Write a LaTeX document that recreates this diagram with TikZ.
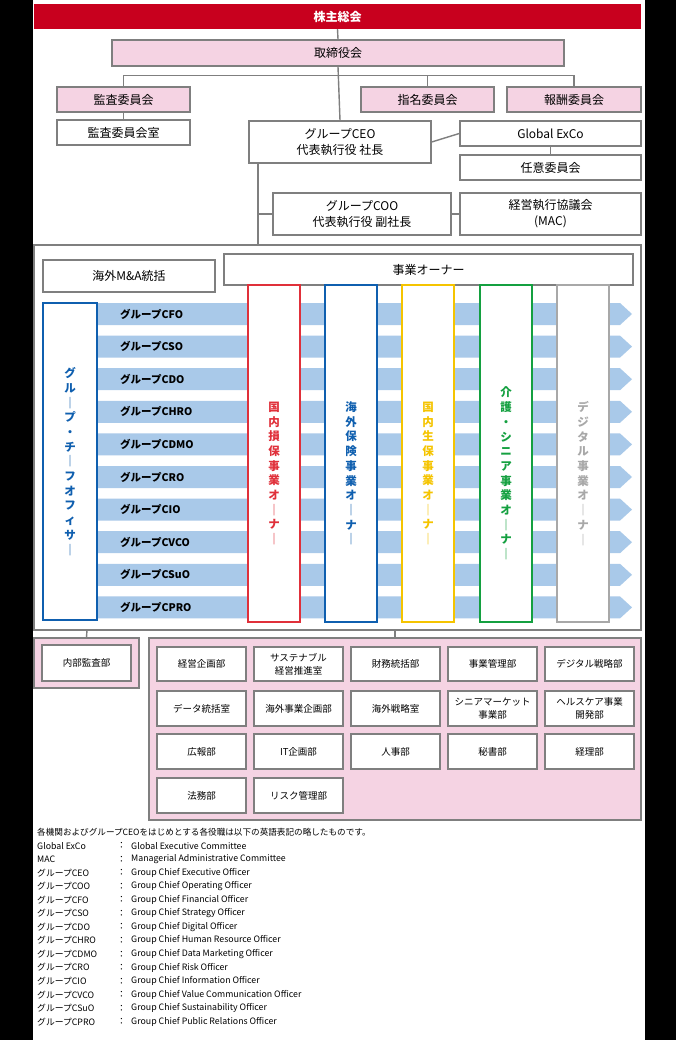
\documentclass[tikz,border=0pt]{standalone}
\usepackage{fontspec}
\setmainfont{Noto Sans CJK JP}
\definecolor{cred}{HTML}{C8001E}
\definecolor{cpink}{HTML}{F5D3E3}
\definecolor{cgray}{HTML}{7F7F7F}
\definecolor{cband}{HTML}{A9C9E9}
\definecolor{cblue}{HTML}{0F5FAF}
\definecolor{cr}{HTML}{E0303A}
\definecolor{cy}{HTML}{F5C400}
\definecolor{cg}{HTML}{14A040}
\definecolor{cgr}{HTML}{A8A8A8}
\newcommand\bx[7]{\node[#6,minimum width={#4pt-#2pt},minimum height={#5pt-#3pt}] (#1) at ({(#2+#4)/2},{(#3+#5)/2}) {#7};}
\begin{document}
\begin{tikzpicture}[x=1pt,y=-1pt,
  bx/.style={draw=cgray,line width=1.4pt,fill=white,inner sep=0,align=center,font=\fontsize{12}{16}\selectfont},
  pk/.style={bx,fill=cpink},
  sm/.style={bx,line width=1.6pt,font=\fontsize{9.5}{13}\selectfont},
  ln/.style={draw=cgray,line width=1.4pt},
  vt/.style={inner sep=0,align=center,font=\fontsize{11.5}{14.7}\selectfont\bfseries}]
\fill[black] (0,0) rectangle (676,1040);
\fill[white] (33,0) rectangle (645,1040);
\useasboundingbox (0,0) rectangle (676,1040);
% top
\node[fill=cred,text=white,minimum width=607pt,minimum height=25pt,inner sep=0,font=\fontsize{12}{14}\selectfont\bfseries] (agm) at (337.5,16.5) {株主総会};
\bx{board}{112}{40}{564}{66}{pk}{取締役会}
\bx{audit}{57}{87}{190}{112}{pk}{監査委員会}
\bx{nom}{361}{87}{494}{112}{pk}{指名委員会}
\bx{comp}{507}{87}{641}{112}{pk}{報酬委員会}
\bx{auditoff}{57}{120}{190}{145}{bx}{監査委員会室}
\bx{ceo}{249}{121}{431}{163}{bx}{グループCEO\\代表執行役\ 社長}
\bx{exco}{460}{121}{641}{146}{bx}{Global ExCo}
\bx{nin}{460}{155}{641}{180}{bx}{任意委員会}
\bx{coo}{273}{193}{451}{235}{bx}{グループCOO\\代表執行役\ 副社長}
\bx{mac}{460}{193}{641}{235}{bx}{経営執行協議会\\(MAC)}
\draw[ln] (agm.south) -- (board.north);
\draw[ln] (board.south) -- (ceo.north);
\draw[ln] (audit.north) -- ++(0,-11) -| (comp.north);
\draw[ln] (nom.north) -- ++(0,-11);
\draw[ln] (audit.south) -- (auditoff.north);
\draw[ln] (ceo.east) -- (exco.west);
\draw[ln] (exco.south) -- (nin.north);
\draw[ln] (coo.east) -- (mac.west);
% big box
\bx{big}{34}{245}{641}{630}{bx}{}
\coordinate (cl) at (258,163);
\draw[ln] (cl) -- (258,245);
\draw[ln] (258,214) -- (coo.west);
\bx{ma}{43}{260}{215}{292}{bx}{海外M\&A統括}
\bx{own}{224}{254}{633}{285}{bx}{事業オーナー}
% bands
\foreach \t [count=\i from 0] in {CFO,CSO,CDO,CHRO,CDMO,CRO,CIO,CVCO,CSuO,CPRO}{
  \pgfmathsetmacro\yc{314+\i*32.6}
  \fill[cband] (97,\yc-11) -- (620,\yc-11) -- (632,\yc) -- (620,\yc+11) -- (97,\yc+11) -- cycle;
  \node[anchor=west,inner sep=0,font=\fontsize{10.5}{12}\selectfont\bfseries] (b\i) at (120,\yc) {グループ\t};
}
\bx{gco}{43}{303}{97}{620}{bx,draw=cblue,line width=1.6pt}{}
\node[vt,text=cblue] at (gco) {グ\\ル\\｜\\プ\\・\\チ\\｜\\フ\\オ\\フ\\ィ\\サ\\｜};
\foreach \n/\a/\c/\t in {o1/248/cr/{国\\内\\損\\保\\事\\業\\オ\\｜\\ナ\\｜},
  o2/325/cblue/{海\\外\\保\\険\\事\\業\\オ\\｜\\ナ\\｜},
  o3/402/cy/{国\\内\\生\\保\\事\\業\\オ\\｜\\ナ\\｜},
  o4/480/cg/{介\\護\\・\\シ\\ニ\\ア\\事\\業\\オ\\｜\\ナ\\｜},
  o5/557/cgr/{デ\\ジ\\タ\\ル\\事\\業\\オ\\｜\\ナ\\｜}}{
  \pgfmathsetmacro\bb{\a+52}
  \bx{\n}{\a}{285}{\bb}{622}{bx,draw=\c,line width=1.3pt}{}
  \node[vt,text=\c] at ([yshift=-20pt]\n) {\t};
}
% bottom
\bx{ipink}{34}{638}{139}{688}{bx,fill=cpink}{}
\bx{ia}{42}{645}{131}{681}{sm}{内部監査部}
\bx{dpink}{149}{638}{641}{820}{bx,fill=cpink}{}
\draw[ln] (87,630) -- (ipink.north);
\draw[ln] (395,630) -- (395,638);
\foreach \r/\ya/\yb/\items in {
 1/647/681/{経営企画部,サステナブル\\経営推進室,財務統括部,事業管理部,デジタル戦略部},
 2/691/726/{データ統括室,海外事業企画部,海外戦略室,シニアマーケット\\事業部,ヘルスケア事業\\開発部},
 3/734/769/{広報部,IT企画部,人事部,秘書部,経理部},
 4/778/813/{法務部,リスク管理部}}{
 \foreach \s [count=\k from 0] in \items {
   \pgfmathsetmacro\xa{157+\k*97}\pgfmathsetmacro\xb{\xa+89}
   \bx{d\r\k}{\xa}{\ya}{\xb}{\yb}{sm}{\s}
 }
}
% footnote
\node[anchor=west,inner sep=0,font=\fontsize{8.6}{10}\selectfont] (fn) at (37,832) {各機関およびグループCEOをはじめとする各役職は以下の英語表記の略したものです。};
\foreach \a/\b [count=\i] in {Global ExCo/Global Executive Committee,MAC/Managerial Administrative Committee,
 グループCEO/Group Chief Executive Officer,グループCOO/Group Chief Operating Officer,
 グループCFO/Group Chief Financial Officer,グループCSO/Group Chief Strategy Officer,
 グループCDO/Group Chief Digital Officer,グループCHRO/Group Chief Human Resource Officer,
 グループCDMO/Group Chief Data Marketing Officer,グループCRO/Group Chief Risk Officer,
 グループCIO/Group Chief Information Officer,グループCVCO/Group Chief Value Communication Officer,
 グループCSuO/Group Chief Sustainability Officer,グループCPRO/Group Chief Public Relations Officer}{
 \pgfmathsetmacro\yy{832+\i*13.55}
 \node[anchor=west,inner sep=0,font=\fontsize{8.8}{10}\selectfont] (fa\i) at (37,\yy) {\a};
 \node[anchor=west,inner sep=0,font=\fontsize{8.8}{10}\selectfont] (fc\i) at (117,\yy) {：};
 \node[anchor=west,inner sep=0,font=\fontsize{8.8}{10}\selectfont] (fb\i) at (131,\yy) {\b};
}
\end{tikzpicture}
\end{document}
